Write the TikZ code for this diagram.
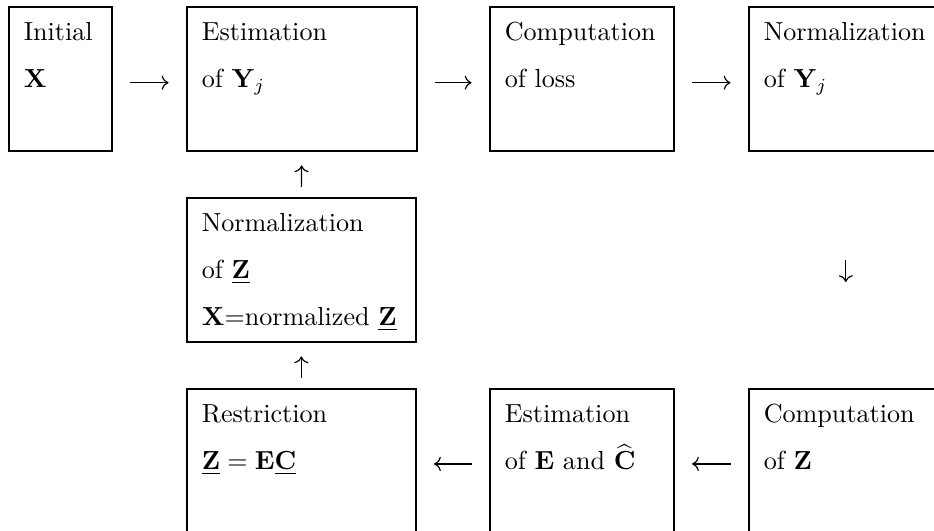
\documentclass[tikz,border=0pt]{standalone}
\usepackage{amsmath, amsfonts, amssymb}
\usepackage{tikz}
\usetikzlibrary{arrows.meta}

\begin{document}
\begin{tikzpicture}[x=0.383pt, y=-0.383pt,
  box/.style={draw, line width=0.6pt, anchor=north west,
    inner xsep=5.75pt, inner ysep=0pt, align=left,
    text width=#1*0.383pt-11.5pt, text height=13pt, text depth=42.15pt,
    font=\fontsize{10}{18}\selectfont},
  flow/.style={line width=0.45pt, -{Computer Modern Rightarrow}},
  hflow/.style={flow, shorten <=6.7pt, shorten >=6.7pt},
  vflow/.style={flow, shorten <=3.8pt, shorten >=5.3pt}]
  \useasboundingbox (0,0) rectangle (934,531);
  \clip (0,0) rectangle (934,531);

  % top row
  \node[box=103] (init)  at (8,6)   {Initial\\ $\mathbf{X}$};
  \node[box=230] (estY)  at (186,6) {Estimation\\ of $\mathbf{Y}_j$};
  \node[box=184] (loss)  at (489,6) {Computation\\ of loss};
  \node[box=194] (normY) at (748,6) {Normalization\\ of $\mathbf{Y}_j$};

  % middle
  \node[box=229] (normZ) at (186,197)
    {Normalization\\ of $\underline{\mathbf{Z}}$\\ $\mathbf{X}$=normalized~$\underline{\mathbf{Z}}$};

  % bottom row
  \node[box=229] (restr) at (186,388) {Restriction\\ $\underline{\mathbf{Z}} = \mathbf{E}\underline{\mathbf{C}}$};
  \node[box=184] (estEC) at (489,388) {Estimation\\ of $\mathbf{E}$ and $\widehat{\mathbf{C}}$};
  \node[box=194] (compZ) at (748,388) {Computation\\ of $\mathbf{Z}$};

  % arrows
  \draw[hflow] ([yshift=-1.5pt]init.east) -- ([yshift=-1.5pt]estY.west);
  \draw[hflow] ([yshift=-1.5pt]estY.east) -- ([yshift=-1.5pt]loss.west);
  \draw[hflow] ([yshift=-1.5pt]loss.east) -- ([yshift=-1.5pt]normY.west);
  \draw[flow, shorten <=41.4pt, shorten >=40.6pt] (normY.south) -- (compZ.north);
  \draw[hflow] ([yshift=-1.2pt]compZ.west) -- ([yshift=-1.2pt]estEC.east);
  \draw[hflow] ([yshift=-1.2pt]estEC.west) -- ([yshift=-1.2pt]restr.east);
  \draw[vflow] (restr.north) -- (normZ.south);
  \draw[vflow] (normZ.north) -- (estY.south);
\end{tikzpicture}
\end{document}
